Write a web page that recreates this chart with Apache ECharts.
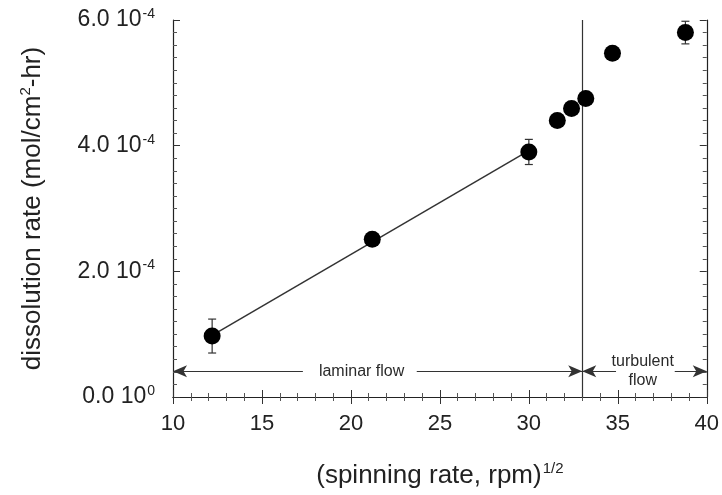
<!DOCTYPE html>
<html><head><meta charset="utf-8">
<script src="https://cdn.jsdelivr.net/npm/echarts@6/dist/echarts.min.js"></script>
<style>html,body{margin:0;padding:0;background:#fff}#c{width:722px;height:495px}</style>
</head><body><div id="c"></div>
<script>
// spinning rate^(1/2)
const xValues = [12.2, 21.2, 30.0, 31.6, 32.4, 33.2, 34.7, 38.8];
// dissolution rate in units of 1e-4 mol/cm2-hr
const yValues = [0.97, 2.51, 3.90, 4.40, 4.59, 4.75, 5.47, 5.80];
const yErrors = [0.27, 0.08, 0.20, 0.08, 0.08, 0.08, 0.08, 0.18];
// laminar fit line endpoints
const fitX = [12.2, 30.0];
const fitY = [0.98, 3.92];
// transition
const transitionX = 33;
// tick labels
const xTicks = [10, 15, 20, 25, 30, 35, 40];
const yTickValues = [0, 2, 4, 6];
const yTickMantissa = ['0.0', '2.0', '4.0', '6.0'];
const yTickExponent = ['0', '-4', '-4', '-4'];
// flow-regime annotations
const regimeLabels = ['laminar flow', 'turbulent\nflow'];
const regimeLabelX = [20.6, 36.4];
const regimeLabelY = [0.41, 0.42];
const arrowY = 0.41;
const laminarSegments = [[10, 17.3], [23.7, 33]];
const turbulentSegments = [[33, 34.9], [38.2, 40]];

const font = '"Liberation Sans", Arial, Helvetica, sans-serif';
const chart = echarts.init(document.getElementById('c'), null, {renderer: 'canvas'});

const points = xValues.map((x, i) => [x, yValues[i], yErrors[i]]);

function seg(a, b, y, startArrow, endArrow) {
  return [
    {coord: [a, y], symbol: startArrow ? 'arrow' : 'none'},
    {coord: [b, y], symbol: endArrow ? 'arrow' : 'none'}
  ];
}

const option = {
  animation: false,
  backgroundColor: '#fff',
  grid: {left: 173, right: 14, top: 20, bottom: 98, containLabel: false},
  xAxis: [{
    type: 'value', min: 10, max: 40, interval: 5,
    axisLine: {show: true, lineStyle: {color: '#222', width: 1.2}},
    axisTick: {show: true, inside: true, length: 7, lineStyle: {color: '#333'}},
    minorTick: {show: true, splitNumber: 5, length: 4, lineStyle: {color: '#555'}},
    splitLine: {show: false},
    axisLabel: {fontFamily: font, fontSize: 22, color: '#222', margin: 16,
      formatter: v => xTicks.includes(v) ? String(v) : ''},
    name: '(spinning rate, rpm){sup|1/2}',
    nameLocation: 'middle', nameGap: 64,
    nameTextStyle: {fontFamily: font, fontSize: 26, color: '#222',
      rich: {sup: {fontFamily: font, fontSize: 15, color: '#222', verticalAlign: 'top', padding: [0, 0, 14, 1]}}}
  }, {
    type: 'value', min: 10, max: 40, interval: 5, position: 'top',
    axisLine: {show: true, lineStyle: {color: '#222', width: 1.2}},
    axisTick: {show: true, inside: true, length: 7, lineStyle: {color: '#333'}},
    minorTick: {show: true, splitNumber: 5, length: 4, lineStyle: {color: '#555'}},
    splitLine: {show: false}, axisLabel: {show: false}
  }],
  yAxis: [{
    type: 'value', min: 0, max: 6, interval: 2,
    axisLine: {show: true, lineStyle: {color: '#222', width: 1.2}},
    axisTick: {show: true, inside: true, length: 7, lineStyle: {color: '#333'}},
    minorTick: {show: true, splitNumber: 10, length: 4, lineStyle: {color: '#555'}},
    splitLine: {show: false},
    axisLabel: {fontFamily: font, fontSize: 23, color: '#222', margin: 18,
      formatter: v => {
        const i = yTickValues.indexOf(v);
        return i < 0 ? '' : '{m|' + yTickMantissa[i] + ' 10}{e|' + yTickExponent[i] + '}';
      },
      rich: {
        m: {fontFamily: font, fontSize: 23, color: '#222'},
        e: {fontFamily: font, fontSize: 14, color: '#222', verticalAlign: 'top', padding: [0, 0, 12, 1]}
      }},
    name: 'dissolution rate (mol/cm{sup|2}-hr)',
    nameLocation: 'middle', nameGap: 126, nameRotate: 90,
    nameTextStyle: {fontFamily: font, fontSize: 26, color: '#222',
      rich: {sup: {fontFamily: font, fontSize: 15, color: '#222', verticalAlign: 'top', padding: [0, 0, 14, 0]}}}
  }, {
    type: 'value', min: 0, max: 6, interval: 2, position: 'right',
    axisLine: {show: true, lineStyle: {color: '#222', width: 1.2}},
    axisTick: {show: true, inside: true, length: 7, lineStyle: {color: '#333'}},
    minorTick: {show: true, splitNumber: 10, length: 4, lineStyle: {color: '#555'}},
    splitLine: {show: false}, axisLabel: {show: false}
  }],
  series: [
    {
      name: 'fit', type: 'line', xAxisIndex: 0, yAxisIndex: 0,
      data: fitX.map((x, i) => [x, fitY[i]]),
      symbol: 'none', lineStyle: {color: '#333', width: 1.5}, silent: true, z: 2,
      markLine: {
        silent: true, animation: false,
        label: {show: false},
        lineStyle: {color: '#333', width: 1.2, type: 'solid'},
        symbolSize: [9, 14],
        data: [
          [{coord: [transitionX, 0], symbol: 'none'}, {coord: [transitionX, 6], symbol: 'none'}],
          seg(laminarSegments[0][0], laminarSegments[0][1], arrowY, true, false),
          seg(laminarSegments[1][0], laminarSegments[1][1], arrowY, false, true),
          seg(turbulentSegments[0][0], turbulentSegments[0][1], arrowY, true, false),
          seg(turbulentSegments[1][0], turbulentSegments[1][1], arrowY, false, true)
        ]
      },
      markPoint: {
        silent: true, animation: false,
        symbol: 'circle', symbolSize: 1,
        itemStyle: {color: 'rgba(0,0,0,0)'},
        label: {show: true, position: 'inside', fontFamily: font, fontSize: 16, color: '#2a2a2a',
          lineHeight: 19, formatter: p => p.name},
        data: regimeLabels.map((t, i) => ({name: t, coord: [regimeLabelX[i], regimeLabelY[i]]}))
      }
    },
    {
      name: 'errors', type: 'custom', xAxisIndex: 0, yAxisIndex: 0,
      data: points, silent: true, z: 3,
      renderItem: (params, api) => {
        const x = api.value(0), y = api.value(1), e = api.value(2);
        const top = api.coord([x, y + e]);
        const bot = api.coord([x, y - e]);
        const hw = 4;
        const st = {stroke: '#333', lineWidth: 1.2};
        return {type: 'group', children: [
          {type: 'line', shape: {x1: top[0], y1: top[1], x2: bot[0], y2: bot[1]}, style: st},
          {type: 'line', shape: {x1: top[0] - hw, y1: top[1], x2: top[0] + hw, y2: top[1]}, style: st},
          {type: 'line', shape: {x1: bot[0] - hw, y1: bot[1], x2: bot[0] + hw, y2: bot[1]}, style: st}
        ]};
      }
    },
    {
      name: 'data', type: 'scatter', xAxisIndex: 0, yAxisIndex: 0,
      data: points.map(p => [p[0], p[1]]),
      symbol: 'circle', symbolSize: 17,
      itemStyle: {color: '#000', opacity: 1}, z: 5
    }
  ]
};
chart.setOption(option);
</script>
</body></html>
